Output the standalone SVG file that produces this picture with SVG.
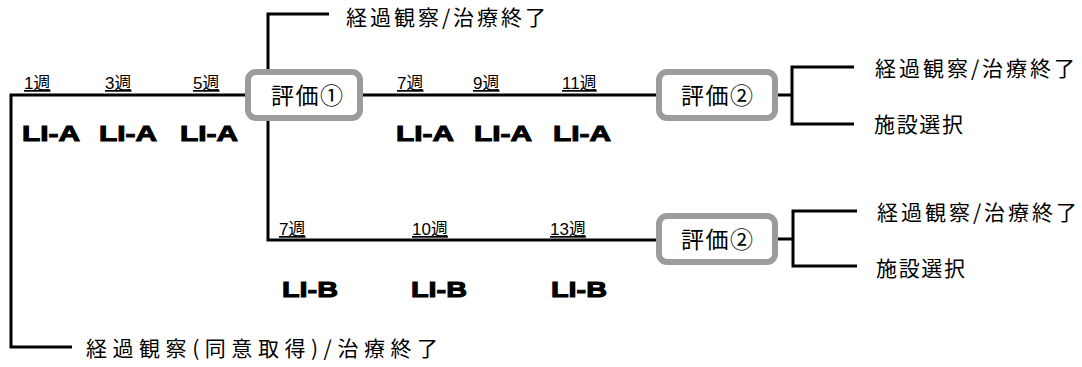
<svg xmlns="http://www.w3.org/2000/svg" width="1082" height="367" viewBox="0 0 1082 367">
<style>
.ln{stroke:#000;stroke-width:3;fill:none}
.box{fill:#fff;stroke:#9c9c9c;stroke-width:6}
.jp{font-family:"Noto Sans CJK JP","Noto Sans",sans-serif;fill:#000}
.big{font-size:21px}
.wk{font-family:"Liberation Sans","Noto Sans CJK JP",sans-serif;font-size:17px;text-decoration:underline;fill:#000}
.li{font-family:"Liberation Sans",Arial,sans-serif;font-weight:bold;font-size:22px;fill:#000;stroke:#000;stroke-width:1}
.bt{font-family:"Noto Sans CJK JP",sans-serif;font-size:23px;text-anchor:middle;fill:#000}
</style>
<rect width="1082" height="367" fill="#fff"/>
<g id="connectors">
<polyline class="ln" points="72,347 11,347 11,95 248,95"/>
<line class="ln" x1="361" y1="95" x2="659" y2="95"/>
<polyline class="ln" points="329,14 268,14 268,240 659,240"/>
<line class="ln" x1="776" y1="95" x2="792" y2="95"/>
<polyline class="ln" points="854,67 792,67 792,124 854,124"/>
<line class="ln" x1="776" y1="239" x2="793" y2="239"/>
<polyline class="ln" points="857,211 793,211 793,266 857,266"/>
</g>
<g id="labels-weeks">
<text class="wk" x="24" y="89">1週</text>
<text class="wk" x="105" y="89">3週</text>
<text class="wk" x="193" y="89">5週</text>
<text class="wk" x="397" y="89">7週</text>
<text class="wk" x="473" y="89">9週</text>
<text class="wk" x="562" y="89">11週</text>
<text class="wk" x="279" y="235">7週</text>
<text class="wk" x="412" y="235">10週</text>
<text class="wk" x="550" y="235">13週</text>
</g>
<g id="labels-li">
<text class="li" x="22" y="141" textLength="58" lengthAdjust="spacingAndGlyphs">LI-A</text>
<text class="li" x="99" y="141" textLength="58" lengthAdjust="spacingAndGlyphs">LI-A</text>
<text class="li" x="180" y="141" textLength="58" lengthAdjust="spacingAndGlyphs">LI-A</text>
<text class="li" x="396" y="141" textLength="58" lengthAdjust="spacingAndGlyphs">LI-A</text>
<text class="li" x="474" y="141" textLength="58" lengthAdjust="spacingAndGlyphs">LI-A</text>
<text class="li" x="553" y="141" textLength="58" lengthAdjust="spacingAndGlyphs">LI-A</text>
<text class="li" x="282" y="297" textLength="56" lengthAdjust="spacingAndGlyphs">LI-B</text>
<text class="li" x="411" y="297" textLength="56" lengthAdjust="spacingAndGlyphs">LI-B</text>
<text class="li" x="551" y="297" textLength="56" lengthAdjust="spacingAndGlyphs">LI-B</text>
</g>
<g id="eval1">
<rect class="box" x="248" y="72" width="112" height="46" rx="8"/>
<text class="bt" x="307" y="104" textLength="72">評価①</text>
</g>
<g id="eval2-top">
<rect class="box" x="659" y="72" width="116" height="46" rx="8"/>
<text class="bt" x="717" y="104" textLength="72">評価②</text>
</g>
<g id="eval2-bottom">
<rect class="box" x="659" y="216" width="116" height="46" rx="8"/>
<text class="bt" x="717" y="248" textLength="72">評価②</text>
</g>
<g id="outcome-top">
<text class="jp big" x="346" y="25" textLength="200">経過観察/治療終了</text>
</g>
<g id="outcome-a1">
<text class="jp big" x="875" y="76" textLength="200">経過観察/治療終了</text>
</g>
<g id="outcome-a2">
<text class="jp big" x="874" y="132" textLength="89">施設選択</text>
</g>
<g id="outcome-b1">
<text class="jp big" x="877" y="220" textLength="200">経過観察/治療終了</text>
</g>
<g id="outcome-b2">
<text class="jp big" x="876" y="276" textLength="89">施設選択</text>
</g>
<g id="outcome-bottom">
<text class="jp big" x="86" y="356" textLength="352">経過観察(同意取得)/治療終了</text>
</g>
</svg>
